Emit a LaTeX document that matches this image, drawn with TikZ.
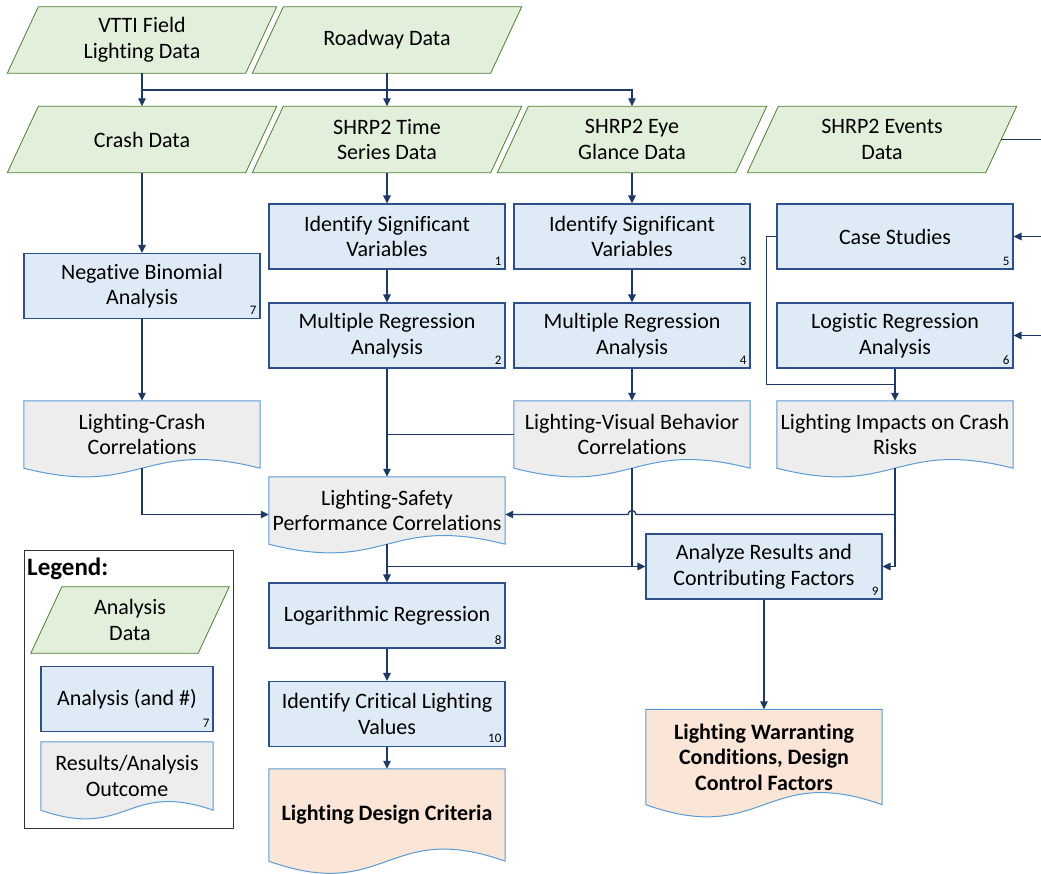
\documentclass[tikz,border=0pt]{standalone}
\usepackage{fontspec}
\setmainfont{Carlito}[Ligatures=NoCommon]
\usepackage{tikz}
\usetikzlibrary{arrows.meta, backgrounds, calc}
\definecolor{datafill}{HTML}{E2EFDA}
\definecolor{dataline}{HTML}{507E32}
\definecolor{procfill}{HTML}{DEEBF7}
\definecolor{procline}{HTML}{2F4F8A}
\definecolor{resfill}{HTML}{EDEDED}
\definecolor{resline}{HTML}{5B9BD5}
\definecolor{finfill}{HTML}{FBE5D6}
\definecolor{linkcol}{HTML}{1F3864}
\tikzset{datanode/.style = {rectangle, minimum width=238, minimum height=66, align=center, inner sep=0pt}}
\tikzset{procnode/.style = {rectangle, draw=procline, fill=procfill, line width=1.2pt,
    minimum width=236, minimum height=65, align=center, inner sep=0pt}}
\tikzset{docnode/.style = {rectangle, minimum width=236, minimum height=67, align=center, inner sep=0pt}}
\tikzset{numtag/.style = {anchor=south east, inner sep=4pt, font=\fontsize{13}{15}\selectfont}}
\tikzset{numbered/.style = {label={[numtag, name=tag#1]south east:#1}}}
\tikzset{conn/.style = {draw=linkcol, line width=1.3pt, -{Triangle[length=8pt, width=7.5pt]}}}
\tikzset{link/.style = {draw=linkcol, line width=1.3pt}}

\begin{document}
\begin{tikzpicture}[x=1pt, y=-1pt, font=\fontsize{22}{25.5}\selectfont]
    \clip (0,0) rectangle (1041,873);

    % data sources
    \node[datanode] (vtti)    at (142, 40)    {VTTI Field\\Lighting Data};
    \node[datanode] (roadway) at (387, 40)    {Roadway Data};
    \node[datanode] (crash)   at (142, 139.5) {Crash Data};
    \node[datanode] (timeser) at (387, 139.5) {SHRP2 Time\\Series Data};
    \node[datanode] (eyegl)   at (632, 139.5) {SHRP2 Eye\\Glance Data};
    \node[datanode] (events)  at (882, 139.5) {SHRP2 Events\\Data};

    % analyses
    \node[procnode, numbered=7] (negbin)  at (142, 286)   {Negative Binomial\\Analysis};
    \node[procnode, numbered=1] (ident1)  at (387, 236.5) {Identify Significant\\Variables};
    \node[procnode, numbered=3] (ident3)  at (632, 236.5) {Identify Significant\\Variables};
    \node[procnode, numbered=5] (casest)  at (895, 236.5) {Case Studies};
    \node[procnode, numbered=2] (multi2)  at (387, 335.5) {Multiple Regression\\Analysis};
    \node[procnode, numbered=4] (multi4)  at (632, 335.5) {Multiple Regression\\Analysis};
    \node[procnode, numbered=6] (logist)  at (895, 335.5) {Logistic Regression\\Analysis};
    \node[procnode, numbered=9] (analyze) at (764, 566.5) {Analyze Results and\\Contributing Factors};
    \node[procnode, numbered=8] (logreg)  at (387, 615.5) {Logarithmic Regression};
    \node[procnode, numbered=10] (critic) at (387, 714)   {Identify Critical Lighting\\Values};

    % results
    \node[docnode] (crashcor)  at (142, 434.5) {Lighting-Crash\\Correlations};
    \node[docnode] (visualcor) at (632, 434.5) {Lighting-Visual Behavior\\Correlations};
    \node[docnode] (impactcor) at (895, 434.5) {Lighting Impacts on Crash\\Risks};
    \node[docnode] (safetycor) at (387, 510.5) {Lighting-Safety\\Performance Correlations};
    \node[docnode, minimum height=95, font=\fontsize{22}{25.5}\selectfont\bfseries] (warrant) at (764, 757)
        {Lighting Warranting\\Conditions, Design\\Control Factors};
    \node[docnode, minimum height=92, font=\fontsize{22}{25.5}\selectfont\bfseries] (design) at (387, 815)
        {Lighting Design Criteria};

    % legend
    \draw[black!80, line width=1pt] (24,550) rectangle (233,828);
    \node[anchor=west, inner sep=0pt, font=\fontsize{25}{28}\selectfont\bfseries] (legtitle) at (27,569) {Legend:};
    \node[datanode, minimum width=167] (legdata) at (130, 620) {Analysis\\Data};
    \node[procnode, minimum width=172, numbered=7] (legproc) at (127, 699) {Analysis (and \#)};
    \node[docnode, minimum width=172, minimum height=68] (legdoc) at (127, 776) {Results/Analysis\\Outcome};

    % slanted data shapes and document outlines with wavy bottom
    \begin{scope}[on background layer]
    \foreach \n in {vtti, roadway, crash, timeser, eyegl, events, legdata}
        \draw[draw=dataline, fill=datafill, line width=0.8pt]
            ([xshift=15.5pt]\n.north west) -- ([xshift=15.5pt]\n.north east)
            -- ([xshift=-15.5pt]\n.south east) -- ([xshift=-15.5pt]\n.south west) -- cycle;
    \foreach \n/\c/\a in {crashcor/resfill/30, visualcor/resfill/30, impactcor/resfill/30,
        safetycor/resfill/30, legdoc/resfill/30, warrant/finfill/42, design/finfill/42}
        \draw[draw=resline, fill=\c, line width=1pt] (\n.north west) -- (\n.north east) -- (\n.south east)
            .. controls ($(\n.south)+(0,-\a)$) and ($(\n.south)+(0,\a)$) .. (\n.south west) -- cycle;
    \end{scope}

    % connectors
    \coordinate (topbus) at (142, 90);
    \draw[conn] (vtti) -- (crash);
    \draw[conn] (roadway) -- (timeser);
    \draw[conn] (topbus) -| (eyegl);
    \draw[conn] (crash) -- (negbin);
    \draw[conn] (timeser) -- (ident1);
    \draw[conn] (eyegl) -- (ident3);
    \draw[conn] (ident1) -- (multi2);
    \draw[conn] (ident3) -- (multi4);
    \draw[conn] (negbin) -- (crashcor);
    \draw[conn] (multi4) -- (visualcor);
    \draw[conn] (logist) -- (impactcor);
    \draw[conn] (multi2) -- (safetycor);
    \draw[link] (visualcor.west) -- (visualcor.west -| safetycor.north);

    \coordinate (ebus) at (1060, 139.5);
    \draw[link] (events.east) -- (ebus) -- (ebus |- logist.east);
    \draw[conn] (ebus |- casest.east) -- (casest.east);
    \draw[conn] (ebus |- logist.east) -- (logist.east);
    \coordinate (cjoin) at ($(logist.south)!0.5!(impactcor.north)$);
    \draw[link] (casest.west) -| ([xshift=-10pt]casest.west |- cjoin) -- (cjoin);

    \coordinate (sin) at ([yshift=-4pt]safetycor.east);
    \coordinate (sinl) at ([yshift=-4pt]safetycor.west);
    \draw[conn] (crashcor.south) |- (sinl);
    \draw[conn] (impactcor.south |- sin) -- ([xshift=4pt]visualcor.south |- sin) arc (0:-180:4) -- (sin);
    \draw[conn] (impactcor.south) |- (analyze.east);
    \draw[link] (visualcor.south) -- (visualcor.south |- analyze.west);
    \draw[conn] (safetycor.south |- analyze.west) -- (analyze.west);
    \draw[conn] (safetycor) -- (logreg);
    \draw[conn] (logreg) -- (critic);
    \draw[conn] (critic) -- (design);
    \draw[conn] (analyze) -- (warrant);
\end{tikzpicture}
\end{document}
